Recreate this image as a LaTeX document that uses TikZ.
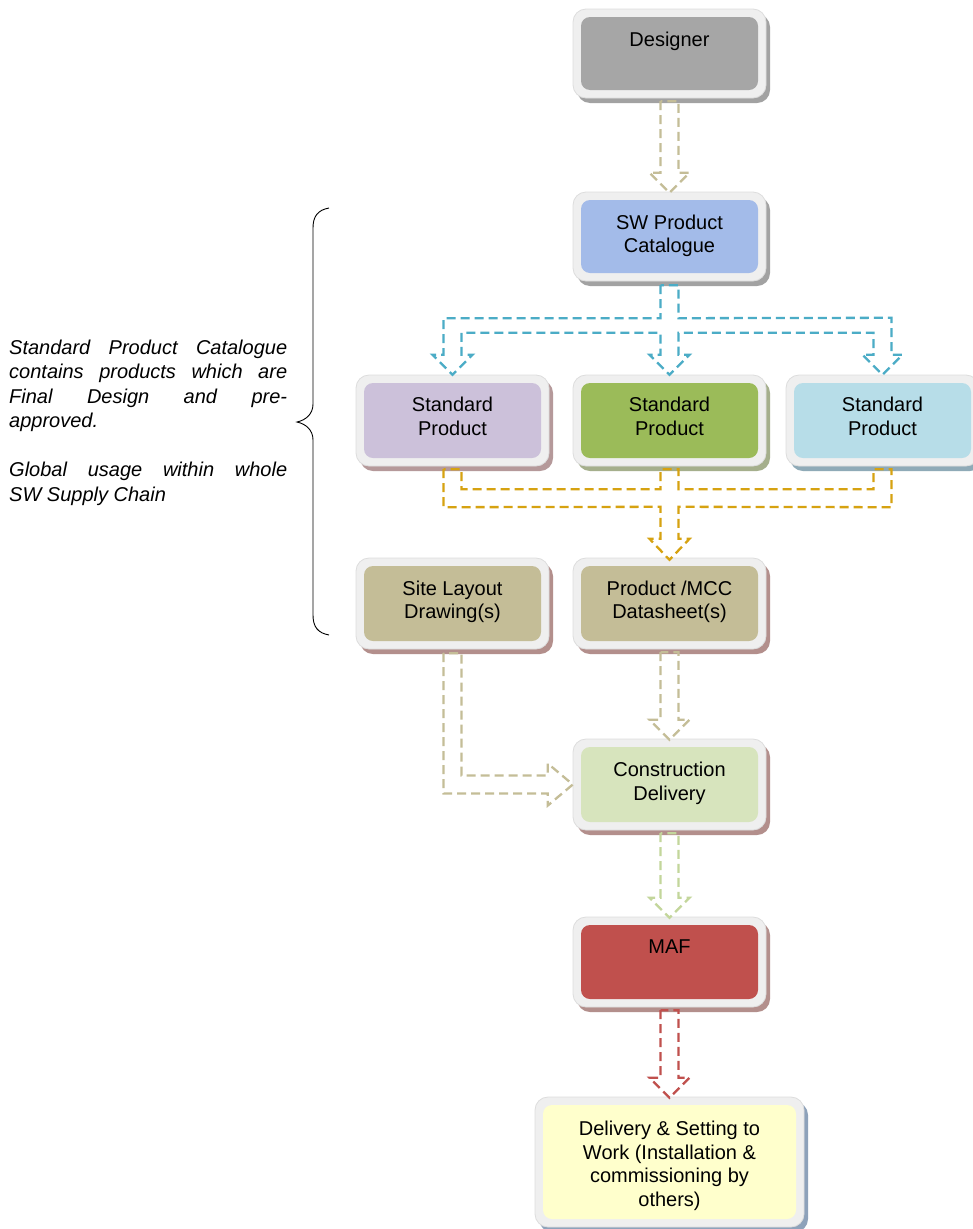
\documentclass[tikz,border=0pt]{standalone}
\usepackage{fontspec}
\setmainfont{Liberation Sans}
\usetikzlibrary{calc}
\definecolor{framefill}{HTML}{EFEFEF}
\definecolor{framedraw}{HTML}{DDDDDD}
\definecolor{cDesigner}{HTML}{A6A6A6}
\definecolor{cSW}{HTML}{A3BBE9}
\definecolor{cStdA}{HTML}{CCC1DA}
\definecolor{cStdB}{HTML}{9BBB59}
\definecolor{cStdC}{HTML}{B7DDE8}
\definecolor{cTan}{HTML}{C4BD97}
\definecolor{cCons}{HTML}{D7E4BD}
\definecolor{cMAF}{HTML}{C0504D}
\definecolor{cDel}{HTML}{FFFFCC}
\definecolor{shGray}{HTML}{A2A2A2}
\definecolor{shStdA}{HTML}{B5999A}
\definecolor{shStdB}{HTML}{A5AF8C}
\definecolor{shStdC}{HTML}{8FAAB7}
\definecolor{shRose}{HTML}{B38F8C}
\definecolor{shBlue}{HTML}{8EA2BA}
\definecolor{aTan}{HTML}{C4BD97}
\definecolor{aBlue}{HTML}{4BACC6}
\definecolor{aGold}{HTML}{D6A211}
\definecolor{aGreen}{HTML}{C3D69B}
\definecolor{aRed}{HTML}{C0504D}
\tikzset{
  cardbox/.style={rounded corners=9pt, inner sep=0pt, draw=none},
  cardtext/.style={font=\fontsize{20}{23.5}\selectfont, align=center, anchor=base, inner sep=0pt},
  blk/.style={draw=#1, line width=2.3pt, dash pattern=on 9pt off 5pt},
}
\newcommand{\mycard}[7]{%
  \fill[#7, rounded corners=13pt] (#2-4,#3-3) rectangle (#4+12,#5+13);
  \filldraw[fill=framefill, draw=framedraw, line width=0.8pt, rounded corners=13pt] (#2-8,#3-8) rectangle (#4+8,#5+8);
  \node[cardbox, fill=#6, minimum width={#4-#2}, minimum height={#5-#3}] (#1) at ({(#2+#4)/2},{(#3+#5)/2}) {};
}
\newcommand{\vblock}[3]{%
  \draw[blk=#1] ($(#2.south)+(-9,11)$) -- ($(#3.north)+(-9,-27)$) -- ++(-11,0) -- ($(#3.north)+(0,-7)$) -- ($(#3.north)+(20,-27)$) -- ++(-11,0) -- ($(#2.south)+(9,11)$) -- cycle;
}
\begin{document}
\begin{tikzpicture}[x=1pt,y=-1pt]
\useasboundingbox (0,0) rectangle (973,1229);
\fill[white] (0,0) rectangle (973,1229);

\mycard{d}{581}{17}{758}{90}{cDesigner}{shGray}
\mycard{sw}{581}{200}{758}{273}{cSW}{shGray}
\mycard{s1}{364}{383}{541}{458}{cStdA}{shStdA}
\mycard{s2}{581}{383}{758}{458}{cStdB}{shStdB}
\mycard{s3}{794}{383}{971}{458}{cStdC}{shStdC}
\mycard{sl}{364}{566}{541}{641}{cTan}{shRose}
\mycard{pm}{581}{566}{758}{641}{cTan}{shRose}
\mycard{cd}{581}{747}{758}{822}{cCons}{shRose}
\mycard{maf}{581}{925}{758}{999}{cMAF}{shRose}
\mycard{del}{543}{1105}{796}{1219}{cDel}{shBlue}

% multi-line text nodes: base anchor is the last line's baseline
\node[cardtext] (dt) at ($(d.north)+(0,30)$) {Designer};
\node[cardtext] (swt) at ($(sw.north)+(0,53)$) {SW Product\\Catalogue};
\node[cardtext] (s1t) at ($(s1.north)+(0,52.5)$) {Standard\\Product};
\node[cardtext] (s2t) at ($(s2.north)+(0,52.5)$) {Standard\\Product};
\node[cardtext] (s3t) at ($(s3.north)+(0,52.5)$) {Standard\\Product};
\node[cardtext] (slt) at ($(sl.north)+(0,53)$) {Site Layout\\Drawing(s)};
\node[cardtext] (pmt) at ($(pm.north)+(0,53)$) {Product /MCC\\Datasheet(s)};
\node[cardtext] (cdt) at ($(cd.north)+(0,53.5)$) {Construction\\Delivery};
\node[cardtext] (maft) at ($(maf.north)+(0,29)$) {MAF};
\node[cardtext] (delt) at ($(del.north)+(0,101.5)$) {Delivery \& Setting to\\Work (Installation \&\\commissioning by\\others)};

% arrows
\vblock{aTan}{d}{sw}
\vblock{aTan}{pm}{cd}
\vblock{aGreen}{cd}{maf}
\vblock{aRed}{maf}{del}

\draw[blk=aBlue] ($(sw.south)+(-9,12)$) -- ($(sw.south)+(-9,45)$)
  -| ($(s1.north)+(-9,-28)$) -- ++(-11,0) -- ($(s1.north)+(0,-8)$) -- ($(s1.north)+(20,-28)$) -- ++(-11,0)
  |- ($(s2.north)+(-9,-50)$) -- ($(s2.north)+(-9,-28)$) -- ++(-11,0) -- ($(s2.north)+(0,-8)$) -- ($(s2.north)+(20,-28)$) -- ++(-11,0)
  -- ($(s2.north)+(9,-50)$) -- ($(s3.north)+(-9,-50)$) -- ($(s3.north)+(-9,-28)$) -- ++(-11,0) -- ($(s3.north)+(0,-8)$) -- ($(s3.north)+(20,-28)$) -- ++(-11,0)
  -- ($(s3.north)+(9,-65)$) -- ($(sw.south)+(9,45)$) -- ($(sw.south)+(9,12)$) -- cycle;

\draw[blk=aGold] ($(s1.south)+(-9,11)$) -- ($(s1.south)+(-9,49)$) -- ($(pm.north)+(-9,-59)$) -- ($(pm.north)+(-9,-27)$) -- ++(-11,0) -- ($(pm.north)+(0,-6)$) -- ($(pm.north)+(20,-27)$) -- ++(-11,0) -- ($(pm.north)+(9,-59)$) -- ($(s3.south)+(9,49)$) -- ($(s3.south)+(9,11)$) -- ($(s3.south)+(-9,11)$) -- ($(s3.south)+(-9,31)$) -- ($(s2.south)+(9,31)$) -- ($(s2.south)+(9,11)$) -- ($(s2.south)+(-9,11)$) -- ($(s2.south)+(-9,31)$) -- ($(s1.south)+(9,31)$) -- ($(s1.south)+(9,11)$) -- cycle;

\draw[blk=aTan] ($(sl.south)+(-9,12)$) |- ($(cd.west)+(-33,9)$) -- ++(0,12) -- ($(cd.west)+(-8,0)$) -- ($(cd.west)+(-33,-21)$) -- ++(0,12) -| ($(sl.south)+(9,12)$) -- cycle;

% brace
\draw[line width=0.9pt] (329,208) .. controls (318,210) and (313,216) .. (313,228) -- (313,404) .. controls (313,414) and (306,420) .. (297,422) .. controls (306,424) and (313,430) .. (313,440) -- (313,615) .. controls (313,627) and (318,633) .. (329,635);

\node[font=\fontsize{20}{24.5}\selectfont\itshape, text width=278pt, align=justify, anchor=base west, inner sep=0pt] (desc) at (9,354) {Standard Product Catalogue\linebreak contains products which are\linebreak Final Design and pre-\linebreak approved.\par\vspace{24.5pt}Global usage within whole\linebreak SW Supply Chain};
\end{tikzpicture}
\end{document}
